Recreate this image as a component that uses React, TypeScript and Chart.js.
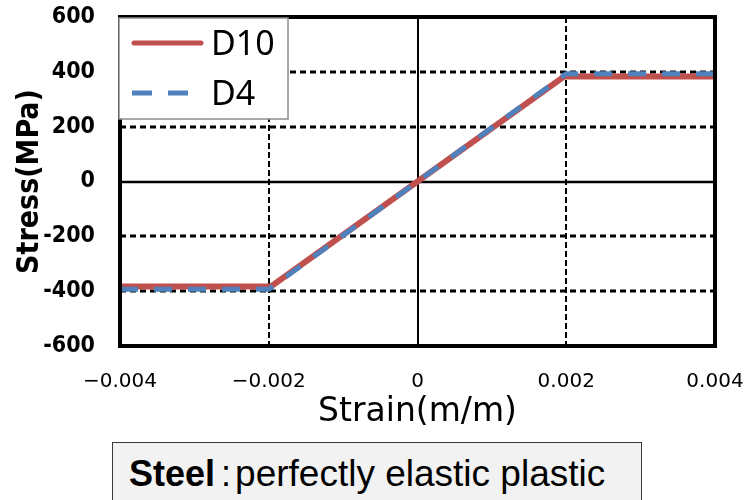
import React, { useEffect, useRef } from 'react';
import { Chart, registerables } from 'chart.js';

Chart.register(...registerables);

// ---- data ----
const seriesNames = ['D10', 'D4'];
const strainD10 = [-0.004, -0.00197, 0.00197, 0.004];
const stressD10 = [-383, -383, 383, 383];
const strainD4 = [-0.004, -0.002, 0.002, 0.004];
const stressD4 = [-393, -393, 393, 393];
const xTickValues = [-0.004, -0.002, 0, 0.002, 0.004];
const xTickLabels = ['\u22120.004', '\u22120.002', '0', '0.002', '0.004'];
const yTickValues = [-600, -400, -200, 0, 200, 400, 600];
const yTickLabels = ['-600', '-400', '-200', '0', '200', '400', '600'];
const xTitle = 'Strain(m/m)';
const yTitle = 'Stress(MPa)';
const noteBold = 'Steel';
const noteRest = 'perfectly elastic plastic';

const RED = 'rgb(192,80,77)';
const BLUE = 'rgb(79,129,189)';

const gridPlugin = {
  id: 'customGrid',
  beforeDatasetsDraw(chart: any) {
    const { ctx, chartArea } = chart;
    const { left, right, top, bottom } = chartArea;
    const xs = chart.scales.x;
    const ys = chart.scales.y;
    ctx.save();
    ctx.strokeStyle = '#000';
    yTickValues.forEach((v) => {
      if (v === yTickValues[0] || v === yTickValues[yTickValues.length - 1]) return;
      const py = Math.round(ys.getPixelForValue(v));
      ctx.lineWidth = v === 0 ? 2.5 : 3;
      ctx.setLineDash(v === 0 ? [] : [6, 4]);
      ctx.beginPath();
      ctx.moveTo(left, py);
      ctx.lineTo(right, py);
      ctx.stroke();
    });
    xTickValues.forEach((v) => {
      if (v === xTickValues[0] || v === xTickValues[xTickValues.length - 1]) return;
      const px = Math.round(xs.getPixelForValue(v));
      ctx.lineWidth = 2;
      ctx.setLineDash(v === 0 ? [] : [6, 3]);
      ctx.beginPath();
      ctx.moveTo(px, top);
      ctx.lineTo(px, bottom);
      ctx.stroke();
    });
    ctx.restore();
  },
  afterDatasetsDraw(chart: any) {
    const { ctx, chartArea } = chart;
    const { left, right, top, bottom } = chartArea;
    ctx.save();
    // frame
    ctx.strokeStyle = '#000';
    ctx.lineWidth = 4;
    ctx.setLineDash([]);
    ctx.strokeRect(left, top, right - left, bottom - top);
    // legend box
    const lx = left - 1;
    const ly = top + 1;
    const lw = 169;
    const lh = 101;
    ctx.fillStyle = '#fff';
    ctx.fillRect(lx, ly, lw, lh);
    ctx.strokeStyle = '#8c8c8c';
    ctx.lineWidth = 1.5;
    ctx.strokeRect(lx, ly, lw, lh);
    const ds = chart.data.datasets;
    const rows = [ly + 25, ly + 75];
    ds.forEach((d: any, i: number) => {
      const yy = rows[i];
      ctx.save();
      ctx.strokeStyle = d.borderColor;
      ctx.lineWidth = 5;
      if (d.borderDash && d.borderDash.length) {
        ctx.lineCap = 'butt';
        ctx.setLineDash([20, 16]);
        ctx.beginPath();
        ctx.moveTo(lx + 13, yy);
        ctx.lineTo(lx + 69, yy);
        ctx.stroke();
      } else {
        ctx.lineCap = 'round';
        ctx.beginPath();
        ctx.moveTo(lx + 15, yy);
        ctx.lineTo(lx + 82, yy);
        ctx.stroke();
      }
      ctx.restore();
      ctx.fillStyle = '#000';
      ctx.font = '34px "Noto Sans"';
      ctx.textBaseline = 'alphabetic';
      ctx.textAlign = 'left';
      ctx.fillText(d.label, lx + 92, yy + 12);
    });
    ctx.restore();
  },
};

const zeroPadding = (scale: any) => {
  scale.paddingTop = 0;
  scale.paddingBottom = 0;
  scale.paddingLeft = 0;
  scale.paddingRight = 0;
};

export default function App() {
  const canvasRef = useRef<HTMLCanvasElement | null>(null);

  useEffect(() => {
    const canvas = canvasRef.current;
    if (!canvas) return;
    const chart = new Chart(canvas, {
      type: 'line',
      data: {
        datasets: [
          {
            label: seriesNames[0],
            data: strainD10.map((x, i) => ({ x, y: stressD10[i] })),
            borderColor: RED,
            backgroundColor: RED,
            borderWidth: 6,
            pointRadius: 0,
            tension: 0,
            fill: false,
            order: 2,
          },
          {
            label: seriesNames[1],
            data: strainD4.map((x, i) => ({ x, y: stressD4[i] })),
            borderColor: BLUE,
            backgroundColor: BLUE,
            borderWidth: 5,
            borderDash: [18, 16],
            pointRadius: 0,
            tension: 0,
            fill: false,
            order: 1,
          },
        ],
      },
      options: {
        responsive: false,
        animation: false,
        devicePixelRatio: 1,
        layout: { padding: { top: 17, right: 29, bottom: 70, left: 0 } },
        plugins: {
          legend: { display: false },
          tooltip: { enabled: false },
        },
        scales: {
          x: {
            type: 'linear',
            min: xTickValues[0],
            max: xTickValues[xTickValues.length - 1],
            grid: { display: false, drawTicks: false },
            border: { display: false },
            afterBuildTicks: (scale: any) => {
              scale.ticks = xTickValues.map((v) => ({ value: v }));
            },
            afterFit: (scale: any) => {
              scale.height = 84;
              zeroPadding(scale);
            },
            ticks: {
              padding: 24,
              color: '#000',
              font: { family: '"DejaVu Sans"', size: 20 },
              maxRotation: 0,
              autoSkip: false,
              callback: (_v: any, i: number) => xTickLabels[i],
            },
            title: {
              display: true,
              text: xTitle,
              color: '#000',
              font: { family: '"DejaVu Sans"', size: 33, lineHeight: 1 },
              padding: { top: 0, bottom: 1 },
            },
          },
          y: {
            type: 'linear',
            min: yTickValues[0],
            max: yTickValues[yTickValues.length - 1],
            grid: { display: false, drawTicks: false },
            border: { display: false },
            afterBuildTicks: (scale: any) => {
              scale.ticks = yTickValues.map((v) => ({ value: v }));
            },
            afterFit: (scale: any) => {
              scale.width = 120;
              zeroPadding(scale);
            },
            ticks: {
              padding: 25,
              color: '#000',
              font: { family: '"DejaVu Sans Condensed", "DejaVu Sans"', size: 23, weight: 'bold' },
              autoSkip: false,
              callback: (_v: any, i: number) => yTickLabels[i],
            },
            title: {
              display: true,
              text: yTitle,
              color: '#000',
              font: { family: '"DejaVu Sans Condensed", "DejaVu Sans"', size: 30, weight: 'bold', lineHeight: 1 },
              padding: { top: 15, bottom: 0 },
            },
          },
        },
      },
      plugins: [gridPlugin],
    } as any);
    return () => chart.destroy();
  }, []);

  return (
    <div style={{ position: 'fixed', left: 0, top: 0, width: 744, height: 500, background: '#fff', overflow: 'hidden' }}>
      <canvas ref={canvasRef} width={744} height={500} style={{ position: 'absolute', left: 0, top: 0 }} />
      <div
        style={{
          position: 'absolute',
          left: 112,
          top: 442,
          width: 530,
          height: 80,
          boxSizing: 'border-box',
          background: '#f2f2f2',
          border: '1.5px solid #3a3a3a',
          fontFamily: '"Liberation Sans", Arial, sans-serif',
          fontSize: 36,
          color: '#000',
          paddingLeft: 16,
          paddingTop: 11,
          lineHeight: '40px',
          whiteSpace: 'nowrap',
        }}
      >
        <span style={{ fontWeight: 'bold' }}>{noteBold}</span>
        <span style={{ marginLeft: 6, marginRight: 4 }}>:</span>
        <span style={{ fontSize: 37 }}>{noteRest}</span>
      </div>
    </div>
  );
}
